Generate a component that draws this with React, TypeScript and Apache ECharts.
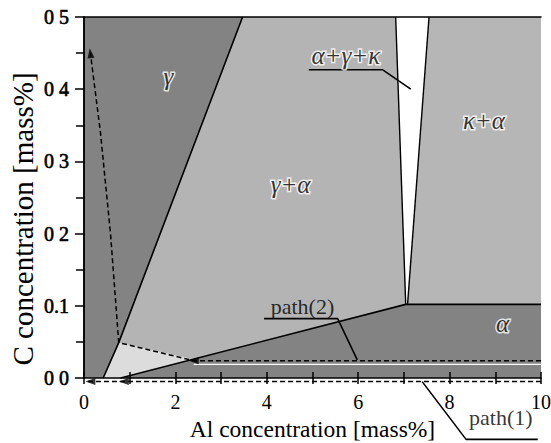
import React, { useEffect, useRef } from "react";
import * as echarts from "echarts";

const FONT = "'Liberation Serif', 'Times New Roman', serif";

// tick labels as printed
const xTickValues = [0, 2, 4, 6, 8, 10];
const yTickLabels = ["0 0", "0.1", "0 2", "0 3", "0 4", "0 5"];
const xTitle = "Al concentration [mass%]";
const yTitle = "C concentration [mass%]";

// phase regions (Al mass%, C mass%)
const gammaRegion = [[0, 0], [0.42, 0], [0.76, 0.049], [3.47, 0.5], [0, 0.5]];
const gammaAlphaRegion = [[0.42, 0], [0.8, 0], [7.04, 0.102], [6.82, 0.5], [3.47, 0.5], [0.76, 0.049]];
const gammaAlphaLightRegion = [[0.42, 0], [0.8, 0], [2.4, 0.026], [0.76, 0.049]];
const kappaAlphaRegion = [[7.55, 0.5], [7.08, 0.102], [10, 0.102], [10, 0.5]];
const alphaRegion = [[0.8, 0], [7.04, 0.102], [10, 0.102], [10, 0]];

// phase boundaries
const gammaBoundary = [[0.42, 0], [0.76, 0.049], [3.47, 0.5]];
const alphaBoundary = [[0.8, 0], [7.04, 0.102], [10, 0.102]];
const wedgeLeft = [[6.82, 0.5], [7.04, 0.102]];
const wedgeRight = [[7.55, 0.5], [7.08, 0.102]];

// paths
const path1 = [[10, -0.005], [0.08, -0.005]];
const path2 = [[10, 0.024], [2.4, 0.024], [0.76, 0.049], [0.58, 0.2], [0.36, 0.34], [0.14, 0.45]];
const path2Highlight = [[2.4, 0.019], [10, 0.019]];
const arrowHeads = [[0.14, -0.005, 90], [0.87, -0.005, 90], [2.4, 0.024, 90], [0.14, 0.45, 7]];

// label leaders
const path1Leader = [[7.4, -0.005], [8.36, -0.085], [9.93, -0.085]];
const path2Leader = [[3.94, 0.0823], [5.55, 0.0823], [5.98, 0.025]];
const triLeader = [[4.92, 0.427], [6.53, 0.427], [7.15, 0.4]];

// labels
const phaseLabelTexts = ["γ", "γ+α", "κ+α", "α", "α+γ+κ"];
const phaseLabelPos = [[1.85, 0.417], [4.52, 0.268], [8.75, 0.357], [9.16, 0.076], [5.73, 0.447]];
const pathLabelTexts = ["path(2)", "path(1)"];
const pathLabelPos = [[4.78, 0.099], [9.12, -0.0546]];

function polygonSeries(points: number[][], fill: string) {
  return {
    type: "custom",
    coordinateSystem: "cartesian2d",
    data: [points[0]],
    silent: true,
    z: 1,
    renderItem: (_p: any, api: any) => ({
      type: "polygon",
      shape: { points: points.map((pt) => api.coord(pt)) },
      style: { fill, stroke: null },
    }),
  };
}

function lineSeries(points: number[][], color: string, width: number, dashed: boolean, z = 3) {
  return {
    type: "line",
    data: points,
    symbol: "none",
    clip: false,
    silent: true,
    z,
    lineStyle: { color, width, type: dashed ? [5, 3] : "solid" },
  };
}

const tickStyle = { color: "#000", width: 1.5 };

export default function App() {
  const ref = useRef<HTMLDivElement>(null);
  useEffect(() => {
    const chart = echarts.init(ref.current!, null, { renderer: "svg" });
    chart.setOption({
      animation: false,
      backgroundColor: "#fff",
      grid: {
        left: 84, right: 10, top: 17, bottom: 65,
        containLabel: false, outerBoundsMode: "none",
      },
      graphic: [
        {
          type: "text", x: 23, y: 219, rotation: Math.PI / 2, silent: true,
          style: {
            text: yTitle, fill: "#000", font: `29px ${FONT}`,
            align: "center", verticalAlign: "middle",
          },
        },
      ],
      xAxis: [
        {
          type: "value", min: 0, max: 10, interval: 2, position: "bottom", z: 10,
          axisLine: { lineStyle: { color: "#000", width: 1.5 } },
          axisTick: { inside: false, length: 6, lineStyle: tickStyle },
          minorTick: { show: true, splitNumber: 2, length: 6, lineStyle: tickStyle },
          splitLine: { show: false },
          axisLabel: {
            color: "#000", fontFamily: FONT, fontSize: 20, margin: 14,
            formatter: (v: number) => String(xTickValues.find((t) => Math.abs(t - v) < 1e-6) ?? v),
          },
          name: xTitle, nameLocation: "middle", nameGap: 39,
          nameTextStyle: { color: "#000", fontFamily: FONT, fontSize: 23.5 },
        },
        {
          type: "value", min: 0, max: 10, interval: 2, position: "bottom", z: 10,
          axisLine: { show: false },
          axisTick: { inside: true, length: 6, lineStyle: tickStyle },
          minorTick: { show: true, splitNumber: 2, length: 6, lineStyle: tickStyle },
          splitLine: { show: false }, axisLabel: { show: false },
        },
        {
          type: "value", min: 0, max: 10, position: "top", z: 10,
          axisLine: { lineStyle: { color: "#000", width: 1.5 } },
          axisTick: { show: false }, splitLine: { show: false }, axisLabel: { show: false },
        },
      ],
      yAxis: [
        {
          type: "value", min: 0, max: 0.5, interval: 0.1, position: "left", z: 10,
          axisLine: { lineStyle: { color: "#000", width: 1.5 } },
          axisTick: { inside: false, length: 9, lineStyle: tickStyle },
          minorTick: { show: true, splitNumber: 2, length: 8, lineStyle: tickStyle },
          splitLine: { show: false },
          axisLabel: {
            color: "#000", fontFamily: FONT, fontSize: 20, margin: 15,
            textBorderColor: "#000", textBorderWidth: 0.6,
            formatter: (v: number) => yTickLabels[Math.round(v * 10)],
          },
        },
        {
          type: "value", min: 0, max: 0.5, position: "right", z: 10,
          axisLine: { lineStyle: { color: "#000", width: 1.5 } },
          axisTick: { show: false }, splitLine: { show: false }, axisLabel: { show: false },
        },
      ],
      series: [
        polygonSeries(gammaRegion, "#838383"),
        polygonSeries(gammaAlphaRegion, "#b4b4b4"),
        polygonSeries(gammaAlphaLightRegion, "#dcdcdc"),
        polygonSeries(kappaAlphaRegion, "#b6b6b6"),
        polygonSeries(alphaRegion, "#838383"),
        lineSeries(gammaBoundary, "#000", 1.6, false),
        lineSeries(alphaBoundary, "#000", 1.6, false),
        lineSeries(wedgeLeft, "#000", 1.4, false),
        lineSeries(wedgeRight, "#000", 1.4, false),
        lineSeries(path2Highlight, "#ffffff", 1.2, false),
        lineSeries(path2, "#000", 1.5, true, 4),
        lineSeries(path1, "#000", 1.5, true, 4),
        lineSeries(path1Leader, "#000", 1.6, false, 4),
        lineSeries(path2Leader, "#000", 1.6, false, 4),
        lineSeries(triLeader, "#000", 1.6, false, 4),
        {
          type: "scatter", data: arrowHeads, symbol: "triangle", symbolSize: [7, 10], clip: false,
          symbolRotate: (v: number[]) => v[2], itemStyle: { color: "#000" }, z: 5, silent: true,
        },
        {
          type: "scatter", clip: false, symbolSize: 1, z: 6, silent: true,
          itemStyle: { color: "rgba(0,0,0,0)" },
          data: phaseLabelPos.map((p, i) => ({ value: p, name: phaseLabelTexts[i] })),
          label: {
            show: true, position: "inside", formatter: "{b}", color: "#000",
            fontFamily: FONT, fontStyle: "italic", fontSize: 25,
            textBorderColor: "#fff", textBorderWidth: 3,
          },
        },
        {
          type: "scatter", clip: false, symbolSize: 1, z: 6, silent: true,
          itemStyle: { color: "rgba(0,0,0,0)" },
          data: pathLabelPos.map((p, i) => ({ value: p, name: pathLabelTexts[i] })),
          label: {
            show: true, position: "inside", formatter: "{b}", color: "#000",
            fontFamily: FONT, fontSize: 22,
          },
        },
      ],
    });
    return () => chart.dispose();
  }, []);
  return (
    <div
      ref={ref}
      style={{ position: "fixed", left: 0, top: 0, width: 551, height: 443, background: "#fff" }}
    />
  );
}
